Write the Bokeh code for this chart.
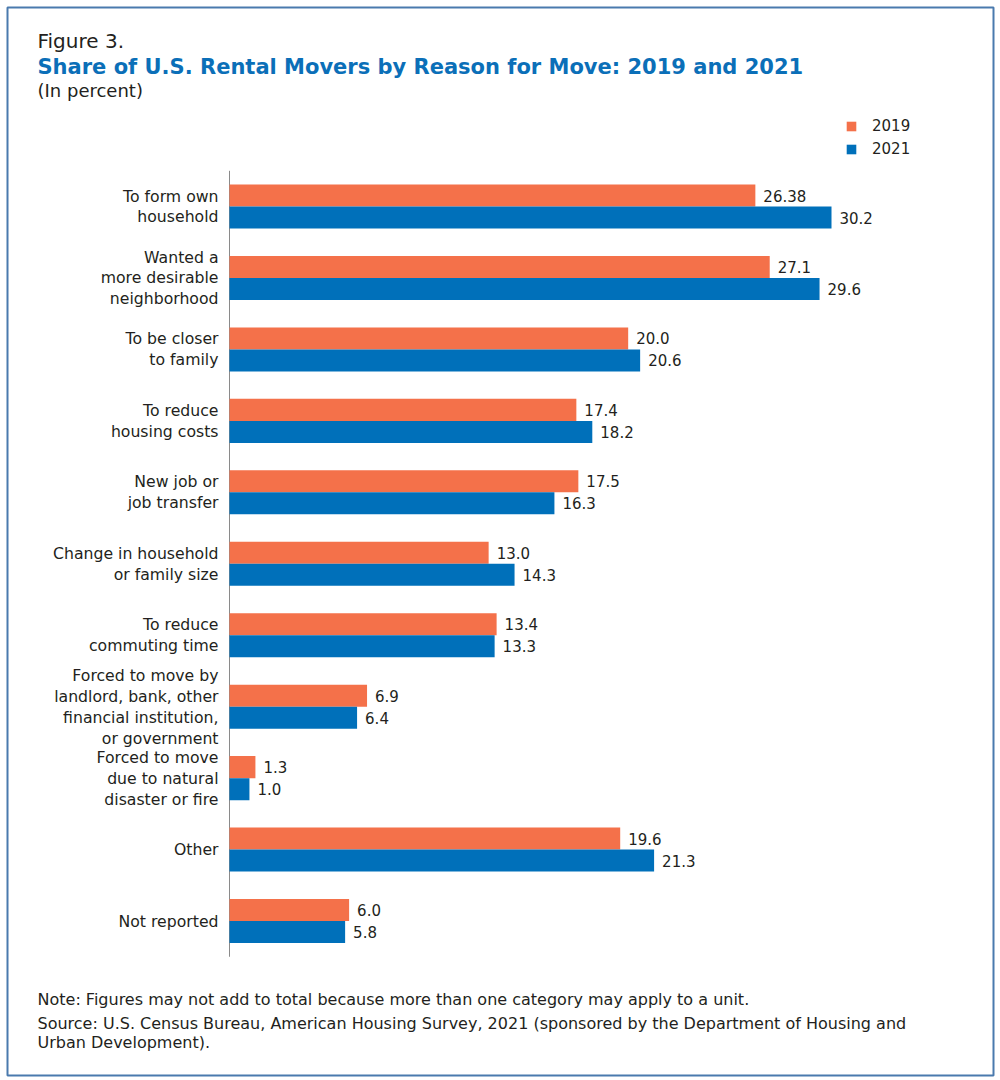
from bokeh.plotting import figure
from bokeh.models import (Range1d, Label, Legend, LegendItem, ColumnDataSource)
from bokeh.transform import dodge
from bokeh.embed import file_html
from bokeh.resources import INLINE
from bokeh.core.properties import value

categories = [
    "To form own\nhousehold",
    "Wanted a\nmore desirable\nneighborhood",
    "To be closer\nto family",
    "To reduce\nhousing costs",
    "New job or\njob transfer",
    "Change in household\nor family size",
    "To reduce\ncommuting time",
    "Forced to move by\nlandlord, bank, other\nfinancial institution,\nor government",
    "Forced to move\ndue to natural\ndisaster or fire",
    "Other",
    "Not reported",
]
v2019 = [26.38, 27.1, 20.0, 17.4, 17.5, 13.0, 13.4, 6.9, 1.3, 19.6, 6.0]
v2021 = [30.2, 29.6, 20.6, 18.2, 16.3, 14.3, 13.3, 6.4, 1.0, 21.3, 5.8]
l2019 = ["26.38", "27.1", "20.0", "17.4", "17.5", "13.0", "13.4", "6.9", "1.3", "19.6", "6.0"]
l2021 = ["30.2", "29.6", "20.6", "18.2", "16.3", "14.3", "13.3", "6.4", "1.0", "21.3", "5.8"]
series = ["2019", "2021"]

FONT = "DejaVu Sans"
ORANGE = "#f4714a"
BLUE = "#0070ba"
TITLE_BLUE = "#0b6fb8"
TEXT = "#231f20"

n = len(categories)
# category slot positions (top category highest)
ypos = [n - 0.5 - i for i in range(n)]

src = ColumnDataSource(dict(cat=categories, pos=ypos, v19=v2019, v21=v2021,
                            l19=l2019, l21=l2021))

# layout (absolute page pixels)
W, H = 998, 1078
FL, FR, FT, FB = 7, 993, 7, 1075       # frame box (= outer border)
X0 = 229                               # pixel of value 0
KX = 19.934                            # px per percent
TOP_SLOT = 170.3                       # pixel of top edge of category area
KY = 71.45                             # px per category slot

def dx(px):
    return (px - X0) / KX

def dy(py):
    return n - (py - TOP_SLOT) / KY

p = figure(width=W, height=H, output_backend="svg", toolbar_location=None,
           x_axis_location=None, y_axis_location=None,
           x_range=Range1d(dx(FL), dx(FR)), y_range=Range1d(dy(FB), dy(FT)),
           min_border_left=FL, min_border_right=W - FR, min_border_top=FT,
           min_border_bottom=H - FB)
p.xgrid.grid_line_color = None
p.ygrid.grid_line_color = None
p.background_fill_color = "white"
p.border_fill_color = "white"
p.outline_line_color = "#4a7aae"
p.outline_line_width = 2

# vertical axis line
p.segment(x0=[0], y0=[0], x1=[0], y1=[n], line_color="#8a8a8a", line_width=1)

r19 = p.hbar(y=dodge("pos", 0.154), right="v19", left=0, height=0.308,
             source=src, fill_color=ORANGE, line_color=None)
r21 = p.hbar(y=dodge("pos", -0.154), right="v21", left=0, height=0.308,
             source=src, fill_color=BLUE, line_color=None)

p.text(x="v19", y=dodge("pos", 0.154), text="l19", source=src,
       x_offset=8, text_baseline="middle", text_align="left",
       text_font=value(FONT), text_font_size="15px", text_color=TEXT)
p.text(x="v21", y=dodge("pos", -0.154), text="l21", source=src,
       x_offset=8, text_baseline="middle", text_align="left",
       text_font=value(FONT), text_font_size="15px", text_color=TEXT)

# category labels
p.text(x=0, y="pos", text="cat", source=src, x_offset=-11,
       text_baseline="middle", text_align="right", text_line_height=1.1,
       text_font=value(FONT), text_font_size="15.7px", text_color=TEXT)

legend = Legend(items=[LegendItem(label=series[0], renderers=[r19]),
                       LegendItem(label=series[1], renderers=[r21])],
                location=(845 - FL, FB - 159), orientation="vertical",
                glyph_width=12, glyph_height=12, label_height=20, spacing=3,
                label_standoff=15, padding=0, margin=0,
                border_line_color=None, background_fill_alpha=0,
                label_text_font=FONT, label_text_font_size="15px",
                label_text_color=TEXT)
p.add_layout(legend, "center")

def lab(text, x_abs, base_abs, size, color=TEXT, style="normal"):
    p.add_layout(Label(x=dx(x_abs), y=dy(base_abs), text=text, text_font=FONT,
                       text_font_size=size, text_color=color,
                       text_font_style=style, text_baseline="alphabetic",
                       text_align="left"))

lab("Figure 3.", 37, 40, "20px")
lab("Share of U.S. Rental Movers by Reason for Move: 2019 and 2021", 37, 66, "21px",
    color=TITLE_BLUE, style="bold")
lab("(In percent)", 37, 90, "18px")
lab("Note: Figures may not add to total because more than one category may apply to a unit.",
    37, 999, "16px")
lab("Source: U.S. Census Bureau, American Housing Survey, 2021 (sponsored by the Department of Housing and",
    37, 1023, "16px")
lab("Urban Development).", 37, 1042, "16px")

open("out.html", "w").write(file_html(p, INLINE))
